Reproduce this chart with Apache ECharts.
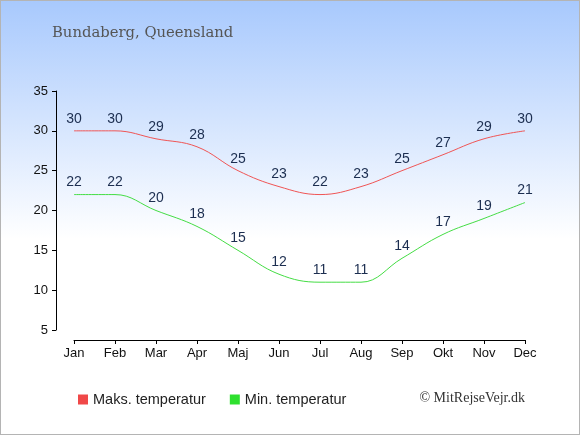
<!DOCTYPE html>
<html>
<head>
<meta charset="utf-8">
<script src="https://cdn.jsdelivr.net/npm/echarts@6/dist/echarts.min.js"></script>
<style>
  html, body { margin: 0; padding: 0; }
  #main { width: 580px; height: 435px; box-sizing: border-box; border: 1px solid #b4b4b4; }
</style>
</head>
<body>
<div id="main"></div>
<script>
var months = ['Jan', 'Feb', 'Mar', 'Apr', 'Maj', 'Jun', 'Jul', 'Aug', 'Sep', 'Okt', 'Nov', 'Dec'];
var maksTemp = [30, 30, 29, 28, 25, 23, 22, 23, 25, 27, 29, 30];
var minTemp = [22, 22, 20, 18, 15, 12, 11, 11, 14, 17, 19, 21];

var myChart = echarts.init(document.getElementById('main'));

var sans = 'Liberation Sans, Arial, sans-serif';
var labelStyle = { show: true, position: 'top', distance: 5, color: '#1c2e50', fontSize: 14, fontFamily: sans };

var option = {
    animation: false,
    backgroundColor: new echarts.graphic.LinearGradient(0, 0, 0, 1, [
        { offset: 0, color: '#a8c9fd' },
        { offset: 0.55, color: '#ffffff' },
        { offset: 1, color: '#ffffff' }
    ]),
    title: {
        text: 'Bundaberg, Queensland',
        left: 46,
        top: 20,
        textStyle: { fontFamily: 'DejaVu Serif, serif', fontWeight: 'normal', fontSize: 14.8, color: '#555' }
    },
    grid: { left: 73, right: 54, top: 90, bottom: 104 },
    legend: {
        data: ['Maks. temperatur', 'Min. temperatur'],
        left: 72,
        top: 386,
        icon: 'rect',
        itemWidth: 10,
        itemHeight: 10,
        itemGap: 24,
        textStyle: { fontSize: 14.5, color: '#222', fontFamily: sans }
    },
    graphic: [{
        type: 'text',
        right: 54,
        top: 390,
        style: { text: '© MitRejseVejr.dk', font: '14px "Liberation Serif", serif', fill: '#333' }
    }],
    xAxis: {
        type: 'category',
        data: months,
        boundaryGap: false,
        offset: 10,
        axisLine: { lineStyle: { color: '#000', width: 1 } },
        axisTick: { alignWithLabel: true, length: 4, lineStyle: { color: '#000' } },
        axisLabel: { color: '#111', fontSize: 13, margin: 7, fontFamily: sans },
        splitLine: { show: false }
    },
    yAxis: {
        type: 'value',
        min: 5,
        max: 35,
        interval: 5,
        offset: 18,
        axisLine: { show: true, lineStyle: { color: '#000', width: 1 } },
        axisTick: { show: true, length: 4, lineStyle: { color: '#000' } },
        axisLabel: { color: '#111', fontSize: 13, margin: 8, fontFamily: sans },
        splitLine: { show: false }
    },
    series: [{
        name: 'Maks. temperatur',
        type: 'line',
        smooth: 0.4,
        symbol: 'circle',
        symbolSize: 0,
        color: '#f04848',
        lineStyle: { color: '#f05555', width: 1 },
        label: labelStyle,
        data: maksTemp
    }, {
        name: 'Min. temperatur',
        type: 'line',
        smooth: 0.4,
        symbol: 'circle',
        symbolSize: 0,
        color: '#2ee02e',
        lineStyle: { color: '#44dd44', width: 1 },
        label: labelStyle,
        data: minTemp
    }]
};

myChart.setOption(option);
</script>
</body>
</html>
